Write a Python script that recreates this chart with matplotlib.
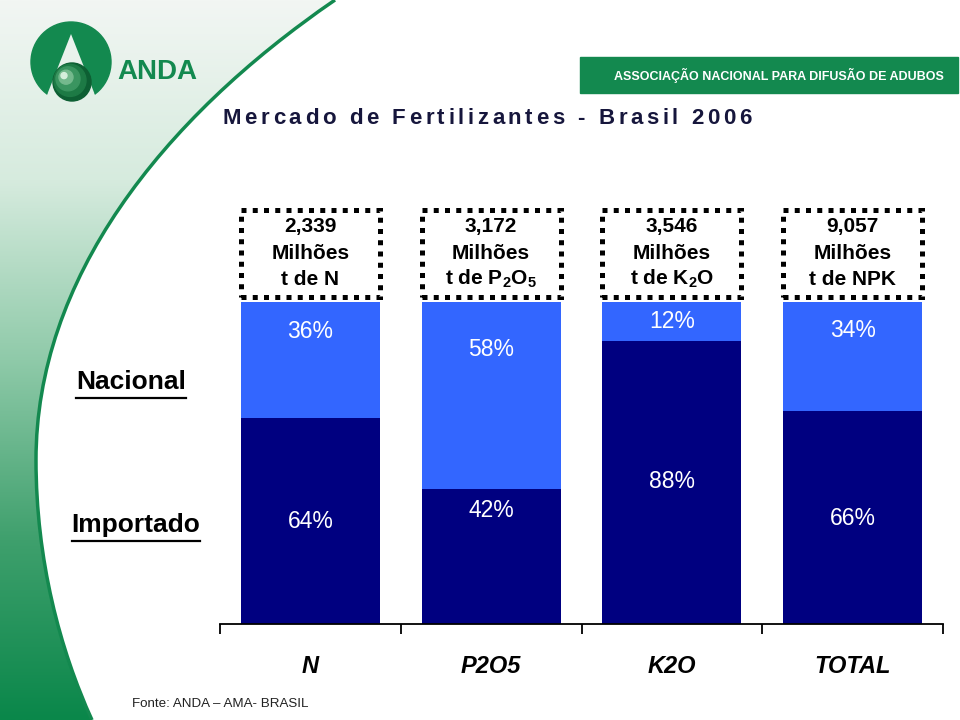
import matplotlib
matplotlib.use("Agg")
import matplotlib.pyplot as plt
import numpy as np
from matplotlib.patches import Rectangle, Circle, Polygon, PathPatch
from matplotlib.path import Path
from matplotlib.font_manager import FontProperties
from matplotlib.colors import LinearSegmentedColormap

plt.rcParams['font.family'] = ['Liberation Sans', 'DejaVu Sans']

categories = ['N', 'P2O5', 'K2O', 'TOTAL']
nacional = [36, 58, 12, 34]
importado = [64, 42, 88, 66]
totals = ['2,339', '3,172', '3,546', '9,057']
units = ['t de N', r't de P$\mathregular{_2}$O$\mathregular{_5}$',
         r't de K$\mathregular{_2}$O', 't de NPK']
# where the percentage labels sit (in % of bar height)
nac_label_y = [90.7, 85.1, 93.8, 91.0]
imp_label_y = [31.7, 35.4, 44.1, 32.9]

light_blue = '#3366ff'
navy = '#000080'
green = '#13894f'

fig = plt.figure(figsize=(9.6, 7.2), dpi=100)

# ---- decoration layer (pixel coordinates) ----
bg = fig.add_axes([0, 0, 1, 1], zorder=-1)
bg.set_xlim(0, 960)
bg.set_ylim(720, 0)
bg.axis('off')

verts = [(335, 0), (160, 120), (36, 280), (36, 460),
         (36, 560), (60, 650), (92, 720),
         (0, 720), (0, 0), (335, 0)]
codes = [Path.MOVETO, Path.CURVE4, Path.CURVE4, Path.CURVE4,
         Path.CURVE4, Path.CURVE4, Path.CURVE4,
         Path.LINETO, Path.LINETO, Path.CLOSEPOLY]
swoosh = PathPatch(Path(verts, codes), facecolor='none', edgecolor='none')
bg.add_patch(swoosh)
cmap = LinearSegmentedColormap.from_list(
    'g', ['#f2f6f3', '#d6ebde', '#8fcaa9', '#3fa06d', '#0a874a'])
grad = np.linspace(0, 1, 256).reshape(-1, 1)
im = bg.imshow(grad, cmap=cmap, extent=[0, 960, 720, 0], aspect='auto')
im.set_clip_path(swoosh)
edge = Path(verts[:7], codes[:7])
bg.add_patch(PathPatch(edge, facecolor='none', edgecolor=green, lw=2.5))

# logo: ring with an "A" cut out, and a sphere
ring = Circle((71, 62), 40, color=green)
bg.add_patch(ring)
keep = Polygon([(20, 15), (122, 15), (122, 100), (97, 100), (71, 34),
                (45, 100), (20, 100)], closed=True, transform=bg.transData)
ring.set_clip_path(keep)
for r, c, dx in [(19, '#0d5f33', 0), (16, '#1d7a45', -2), (12, '#3a9560', -4),
                 (7, '#74b98d', -6), (3, '#d6efdc', -8)]:
    bg.add_patch(Circle((72 + dx, 82 + dx * 0.8), r, color=c))
bg.text(117, 72, 'ANDA', color=green, fontsize=20, fontweight='bold',
        va='center', ha='left')

# banner
bg.add_patch(Rectangle((580, 57), 378, 36, color=green))
bg.text(779, 75, 'ASSOCIAÇÃO NACIONAL PARA DIFUSÃO DE ADUBOS', color='white',
        fontsize=9, fontweight='bold', ha='center', va='center')

# title with wide letter spacing
title = 'Mercado de Fertilizantes - Brasil 2006'
fp = FontProperties(family='Liberation Sans', weight='bold', size=16)
rend = fig.canvas.get_renderer()
base = rend.get_text_width_height_descent('||', fp, ismath=False)[0]
def adv(s):
    return rend.get_text_width_height_descent('|' + s + '|', fp, ismath=False)[0] - base
track = 3.6
total_w = adv(title) + track * (len(title) - 1)
x0 = 487 - total_w / 2
for i, ch in enumerate(title):
    bg.text(x0 + adv(title[:i]) + track * i, 118, ch, fontproperties=fp,
            color='#16163c', ha='left', va='center')

# ---- chart ----
ax = fig.add_axes([220 / 960, 1 - 624 / 720, 723 / 960, 322 / 720])
ax.patch.set_alpha(0)
x = np.arange(len(categories))
ax.bar(x, importado, width=0.77, color=navy)
ax.bar(x, nacional, width=0.77, bottom=importado, color=light_blue)
ax.set_xlim(-0.5, 3.5)
ax.set_ylim(0, 100)
for s in ['top', 'right', 'left']:
    ax.spines[s].set_visible(False)
ax.spines['bottom'].set_linewidth(1.3)
ax.set_yticks([])
ax.set_xticks(x)
ax.set_xticklabels(categories, fontsize=17, fontweight='bold', style='italic')
ax.tick_params(axis='x', which='major', length=0, pad=22)
ax.set_xticks(np.arange(-0.5, 4, 1), minor=True)
ax.tick_params(axis='x', which='minor', length=7, width=1.3, direction='out')

for i in range(len(categories)):
    ax.text(x[i], nac_label_y[i], f'{nacional[i]}%', color='white', fontsize=16.5,
            ha='center', va='center')
    ax.text(x[i], imp_label_y[i], f'{importado[i]}%', color='white', fontsize=16.5,
            ha='center', va='center')
    tr = ax.get_xaxis_transform()
    box = Rectangle((x[i] - 0.385, 1.0155), 0.77, 0.27, transform=tr,
                    fill=False, edgecolor='black', lw=3.6,
                    linestyle=(0, (1, 1.25)), clip_on=False)
    box.set_capstyle('butt')
    ax.add_patch(box)
    for j, line in enumerate([totals[i], 'Milhões', units[i]]):
        ax.text(x[i], 1.233 - 0.081 * j, line, transform=tr, fontsize=15,
                fontweight='bold', ha='center', va='center')

# row labels with underline
fig.canvas.draw()
for label, xc, yc in [('Nacional', 131, 382), ('Importado', 136, 525)]:
    t = bg.text(xc, yc, label, fontsize=19, fontweight='bold',
                ha='center', va='center')
    bb = t.get_window_extent(renderer=fig.canvas.get_renderer())
    bg.plot([xc - bb.width / 2, xc + bb.width / 2], [yc + 16, yc + 16],
            color='black', lw=1.6)

bg.text(132, 704, 'Fonte: ANDA – AMA- BRASIL', fontsize=9.6, color='#222222',
        ha='left', va='center')

fig.savefig('out.png', dpi=100)
